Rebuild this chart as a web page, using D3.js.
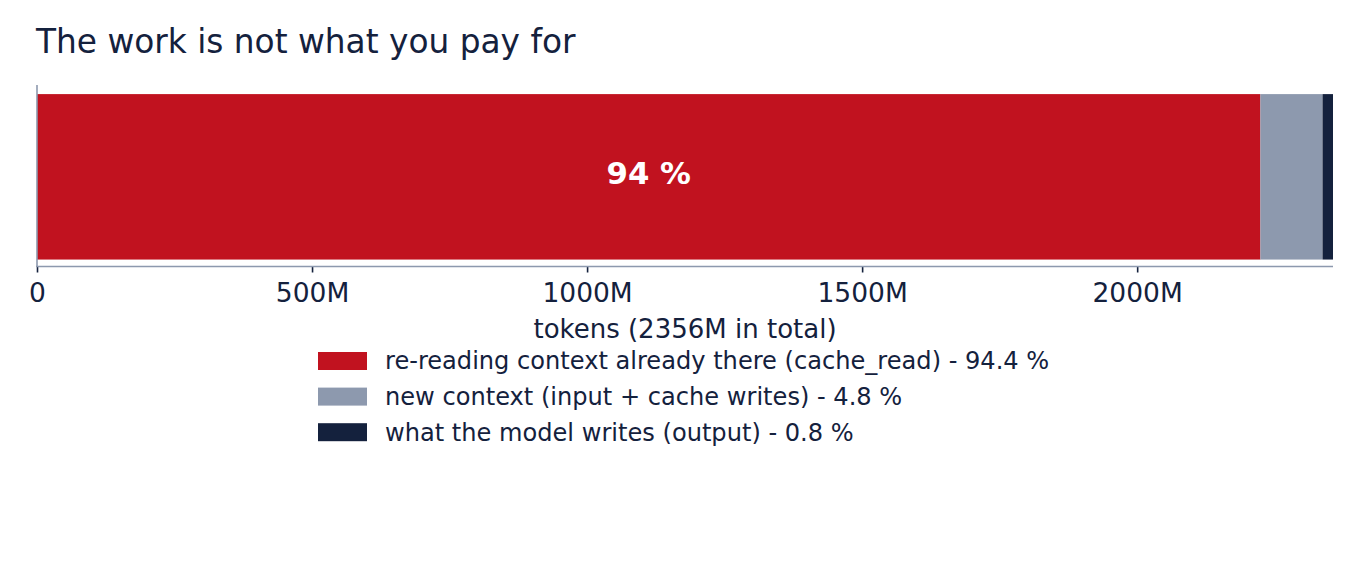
<!DOCTYPE html>
<html>
<head>
<meta charset="utf-8">
<script src="https://cdn.jsdelivr.net/npm/d3@7"></script>
<style>
  body { margin: 0; background: #fff; }
  text { font-family: "DejaVu Sans", sans-serif; }
</style>
</head>
<body>
<script>
// token usage split, in millions
const segments = ["cache_read", "new_context", "output"];
const segmentValues = [2224, 113, 19];
const segmentLabels = [
  "re-reading context already there (cache_read)",
  "new context (input + cache writes)",
  "what the model writes (output)"
];
const segmentColors = ["#c1121f", "#8d99ae", "#14213d"];
const tickValues = [0, 500, 1000, 1500, 2000];

const total = d3.sum(segmentValues);

const svg = d3.select("body")
  .append("svg")
  .attr("width", 1360)
  .attr("height", 578);

const navy = "#14213d";

svg.append("text")
  .attr("x", 36)
  .attr("y", 53)
  .attr("font-size", "32.8px")
  .attr("fill", navy)
  .text("The work is not what you pay for");

const xScale = d3.scaleLinear().domain([0, total]).range([37, 1333]);
const yScale = d3.scaleBand().domain(["tokens"]).range([85, 267])
  .paddingOuter(0.05).align(0.55);

let acc = 0;
const stacked = segmentValues.map(function (v, i) {
  const d = { key: segments[i], x0: acc, x1: acc + v, value: v, color: segmentColors[i] };
  acc += v;
  return d;
});

svg.selectAll(".seg")
  .data(stacked)
  .enter().append("rect")
  .attr("class", "seg")
  .attr("x", function (d) { return xScale(d.x0); })
  .attr("y", yScale("tokens"))
  .attr("width", function (d) { return xScale(d.x1) - xScale(d.x0); })
  .attr("height", yScale.bandwidth())
  .attr("fill", function (d) { return d.color; });

// share label on the big segment
svg.append("text")
  .attr("x", (xScale(stacked[0].x0) + xScale(stacked[0].x1)) / 2)
  .attr("y", yScale("tokens") + yScale.bandwidth() / 2)
  .attr("dy", "0.24em")
  .attr("text-anchor", "middle")
  .attr("font-size", "30.8px")
  .attr("font-weight", "bold")
  .attr("fill", "#fff")
  .text(Math.round(segmentValues[0] / total * 100) + " %");

// spines
svg.append("line")
  .attr("x1", 37).attr("x2", 37)
  .attr("y1", 85).attr("y2", 267)
  .attr("stroke", "#8d99ae").attr("stroke-width", 1.6);

const xAxis = svg.append("g")
  .attr("transform", "translate(0,266.5)")
  .call(d3.axisBottom(xScale)
    .tickValues(tickValues)
    .tickSize(6)
    .tickPadding(10.5)
    .tickFormat(function (d) { return d === 0 ? "0" : d + "M"; }));

xAxis.select(".domain").remove();
xAxis.append("line")
  .attr("x1", 36.2).attr("x2", 1333)
  .attr("stroke", "#8d99ae").attr("stroke-width", 1.6);
xAxis.selectAll(".tick line").attr("stroke", navy).attr("stroke-width", 1.6);
xAxis.selectAll(".tick text")
  .attr("fill", navy)
  .attr("font-size", "26.5px")
  .attr("font-family", "DejaVu Sans");

svg.append("text")
  .attr("x", 685)
  .attr("y", 338)
  .attr("text-anchor", "middle")
  .attr("font-size", "26px")
  .attr("fill", navy)
  .text("tokens (" + total + "M in total)");

// legend
const legend = svg.append("g").attr("transform", "translate(318,352)");
const rows = legend.selectAll(".row")
  .data(stacked)
  .enter().append("g")
  .attr("class", "row")
  .attr("transform", function (d, i) { return "translate(0," + (i * 35.6) + ")"; });

rows.append("rect")
  .attr("width", 49)
  .attr("height", 18)
  .attr("fill", function (d) { return d.color; });

rows.append("text")
  .attr("x", 67)
  .attr("y", 9)
  .attr("dy", "0.35em")
  .attr("font-size", "24.1px")
  .attr("fill", navy)
  .text(function (d, i) {
    return segmentLabels[i] + " - " + (d.value / total * 100).toFixed(1) + " %";
  });
</script>
</body>
</html>
